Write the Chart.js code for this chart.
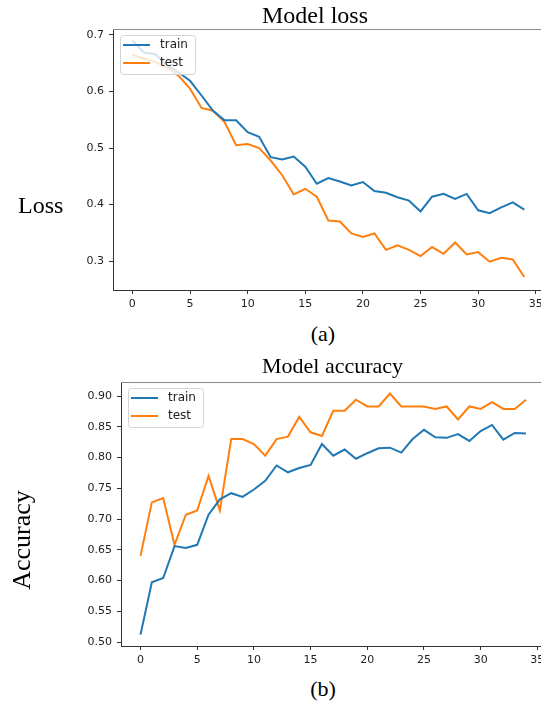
<!DOCTYPE html>
<html lang="en">
<head>
<meta charset="UTF-8">
<title>Model loss / Model accuracy</title>
<style>
    body { margin: 0; background: #fff; }
    .page {
        position: relative;
        width: 541px;
        height: 710px;
        overflow: hidden;
        font-family: 'Liberation Serif', 'Times New Roman', serif;
        color: #000;
    }
    .page canvas { position: absolute; left: 0; }
    .lbl { position: absolute; white-space: nowrap; }
</style>
</head>
<body>
<div class="page">
    <canvas id="loss" width="541" height="316" style="top:0"></canvas>
    <div class="lbl" style="left:262px;top:3px;font-size:24px;line-height:24px">Model loss</div>
    <div class="lbl" style="left:18px;top:193px;font-size:24px;line-height:24px">Loss</div>
    <div class="lbl" style="left:273px;width:100px;text-align:center;top:323px;font-size:22px;line-height:22px">(a)</div>

    <canvas id="acc" width="541" height="322" style="top:350px"></canvas>
    <div class="lbl" style="left:262px;top:355px;font-size:22px;line-height:22px">Model accuracy</div>
    <div class="lbl" style="left:22px;top:540px;width:160px;text-align:center;font-size:26px;line-height:26px;transform:translate(-50%,-50%) rotate(-90deg)">Accuracy</div>
    <div class="lbl" style="left:273px;width:100px;text-align:center;top:678px;font-size:22px;line-height:22px">(b)</div>
</div>

<script src="https://cdn.jsdelivr.net/npm/chart.js"></script>
<script>
    // epochs on the x axis
    const epochs = [0, 1, 2, 3, 4, 5, 6, 7, 8, 9, 10, 11, 12, 13, 14, 15, 16, 17,
        18, 19, 20, 21, 22, 23, 24, 25, 26, 27, 28, 29, 30, 31, 32, 33, 34];

    // (a) loss
    const lossTrain = [0.690, 0.669, 0.666, 0.646, 0.634, 0.619, 0.593, 0.566, 0.549, 0.549,
        0.528, 0.520, 0.484, 0.480, 0.485, 0.467, 0.437, 0.447, 0.441, 0.434,
        0.440, 0.424, 0.421, 0.413, 0.407, 0.388, 0.414, 0.419, 0.410, 0.419,
        0.390, 0.385, 0.395, 0.404, 0.391];
    const lossTest = [0.665, 0.658, 0.652, 0.643, 0.628, 0.605, 0.571, 0.566, 0.546, 0.505,
        0.507, 0.500, 0.478, 0.452, 0.418, 0.428, 0.414, 0.372, 0.370, 0.349,
        0.343, 0.349, 0.320, 0.328, 0.320, 0.309, 0.325, 0.313, 0.333, 0.312,
        0.316, 0.299, 0.306, 0.303, 0.272];

    // (b) accuracy
    const accTrain = [0.512, 0.597, 0.604, 0.656, 0.653, 0.658, 0.707, 0.732, 0.742, 0.736,
        0.748, 0.762, 0.787, 0.776, 0.783, 0.788, 0.822, 0.803, 0.813, 0.798,
        0.807, 0.815, 0.816, 0.808, 0.830, 0.845, 0.833, 0.832, 0.838, 0.827,
        0.843, 0.853, 0.829, 0.840, 0.839];
    const accTest = [0.640, 0.727, 0.734, 0.658, 0.707, 0.714, 0.770, 0.714, 0.830, 0.830,
        0.822, 0.803, 0.830, 0.834, 0.866, 0.841, 0.835, 0.876, 0.876, 0.894,
        0.883, 0.883, 0.904, 0.883, 0.883, 0.883, 0.879, 0.883, 0.862, 0.883,
        0.879, 0.890, 0.879, 0.879, 0.894];

    // tick labels
    const xTicks = [0, 5, 10, 15, 20, 25, 30, 35];
    const lossTicks = [0.3, 0.4, 0.5, 0.6, 0.7];
    const accTicks = [0.50, 0.55, 0.60, 0.65, 0.70, 0.75, 0.80, 0.85, 0.90];

    const tickFont = { family: 'DejaVu Sans', size: 11 };

    // top spine + matplotlib style framed legend, drawn over the lines
    const boxLegend = {
        id: 'boxLegend',
        afterDatasetsDraw(chart) {
            const ctx = chart.ctx;
            const a = chart.chartArea;
            ctx.save();
            ctx.strokeStyle = '#8a8a8a';
            ctx.lineWidth = 1;
            ctx.beginPath();
            ctx.moveTo(a.left, Math.round(a.top) + 0.5);
            ctx.lineTo(a.right, Math.round(a.top) + 0.5);
            ctx.stroke();

            const x = Math.round(a.left) + 7;
            const y = Math.round(a.top) + 6;
            ctx.fillStyle = 'rgba(255,255,255,0.8)';
            ctx.strokeStyle = '#d4d4d4';
            ctx.beginPath();
            ctx.roundRect(x + 0.5, y + 0.5, 75, 39, 3);
            ctx.fill();
            ctx.stroke();

            chart.data.datasets.forEach((ds, i) => {
                const ly = y + 10 + i * 18;
                ctx.strokeStyle = ds.borderColor;
                ctx.lineWidth = 2;
                ctx.beginPath();
                ctx.moveTo(x + 3, ly);
                ctx.lineTo(x + 30, ly);
                ctx.stroke();
                ctx.fillStyle = '#222';
                ctx.font = '12px "DejaVu Sans"';
                ctx.textBaseline = 'middle';
                ctx.fillText(ds.label, x + 40, ly);
            });
            ctx.restore();
        }
    };

    function makeChart(id, train, test, yTicks, yMin, yMax, xMin, xMax, leftWidth, topPad, digits) {
        return new Chart(document.getElementById(id), {
            type: 'line',
            data: {
                datasets: [
                    {
                        label: 'train',
                        data: epochs.map((e, i) => ({ x: e, y: train[i] })),
                        borderColor: '#1f77b4',
                        borderWidth: 2,
                        pointRadius: 0,
                        tension: 0
                    },
                    {
                        label: 'test',
                        data: epochs.map((e, i) => ({ x: e, y: test[i] })),
                        borderColor: '#ff7f0e',
                        borderWidth: 2,
                        pointRadius: 0,
                        tension: 0
                    }
                ]
            },
            options: {
                responsive: false,
                animation: false,
                layout: { padding: { top: topPad, left: 0, right: 0, bottom: 0 } },
                plugins: {
                    legend: { display: false },
                    title: { display: false },
                    tooltip: { enabled: false }
                },
                scales: {
                    x: {
                        type: 'linear',
                        min: xMin,
                        max: xMax,
                        afterBuildTicks: (axis) => { axis.ticks = xTicks.map(v => ({ value: v })); },
                        afterFit: (axis) => {
                            axis.height = 26;
                            axis.paddingLeft = 0;
                            axis.paddingRight = 0;
                        },
                        grid: { drawOnChartArea: false, drawTicks: true, tickLength: 4, color: '#333' },
                        border: { display: true, color: '#333' },
                        ticks: {
                            color: '#222',
                            font: tickFont,
                            padding: 4,
                            maxRotation: 0,
                            autoSkip: false,
                            callback: (v) => v
                        }
                    },
                    y: {
                        type: 'linear',
                        min: yMin,
                        max: yMax,
                        afterBuildTicks: (axis) => { axis.ticks = yTicks.map(v => ({ value: v })); },
                        afterFit: (axis) => {
                            axis.width = leftWidth;
                            axis.paddingTop = 0;
                            axis.paddingBottom = 0;
                        },
                        grid: { drawOnChartArea: false, drawTicks: true, tickLength: 4, color: '#333' },
                        border: { display: true, color: '#333' },
                        ticks: {
                            color: '#222',
                            font: tickFont,
                            padding: 5,
                            autoSkip: false,
                            callback: (v) => Number(v).toFixed(digits)
                        }
                    }
                }
            },
            plugins: [boxLegend]
        });
    }

    makeChart('loss', lossTrain, lossTest, lossTicks, 0.249, 0.7106, -1.68, 35.45, 113, 29, 1);
    makeChart('acc', accTrain, accTest, accTicks, 0.4935, 0.9228, -1.72, 35.32, 121, 32, 2);
</script>
</body>
</html>
